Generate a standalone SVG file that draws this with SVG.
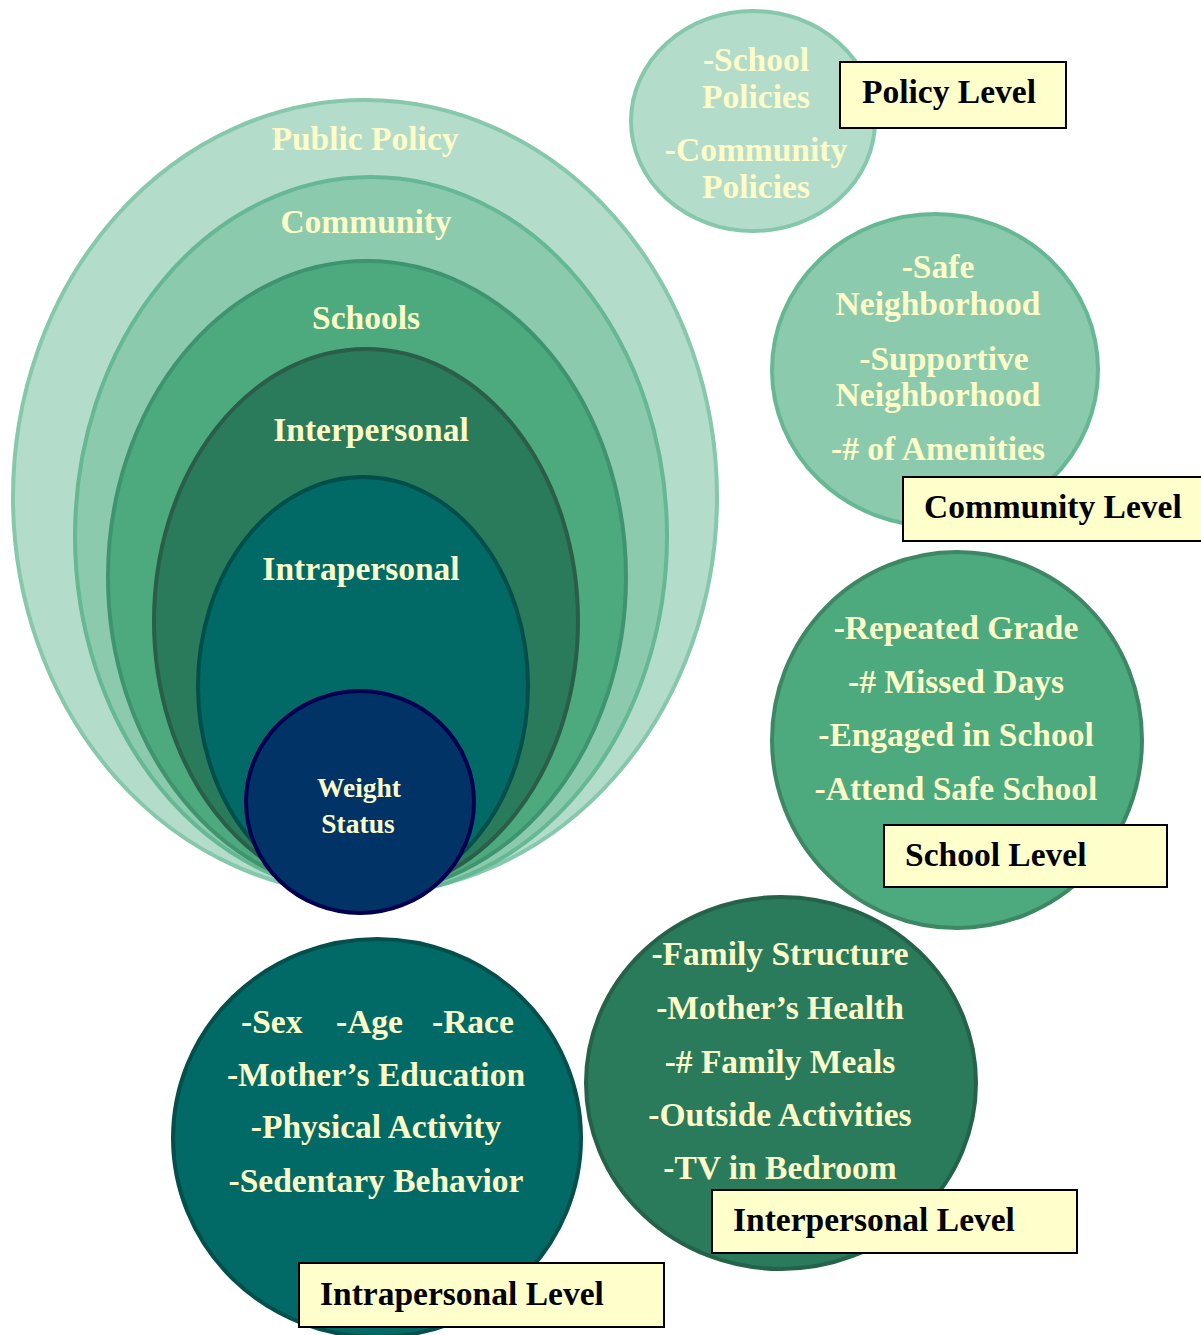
<svg xmlns="http://www.w3.org/2000/svg" width="1201" height="1335" viewBox="0 0 1201 1335">
<style>
text{font-family:"Liberation Serif","Times New Roman",serif;font-weight:bold;}
.t{fill:#fefdc8;font-size:33.5px;text-anchor:middle;}
.lb{fill:#000;font-size:33.5px;}
.box{fill:#ffffcc;stroke:#000;stroke-width:2;}
.c1{fill:#b4dccb;stroke:#86c8ac;stroke-width:4;}
.c2{fill:#8bcaad;stroke:#65b893;stroke-width:4;}
.c3{fill:#4caa7e;stroke:#3f9470;stroke-width:4;}
.c4{fill:#2a7a5c;stroke:#2a5e48;stroke-width:4;}
.c5{fill:#026a66;stroke:#024e4a;stroke-width:4;}
</style>
<rect width="1201" height="1335" fill="#fff"/>
<g id="nested-model">
<g id="public-policy"><ellipse class="c1" cx="365" cy="497" rx="352" ry="397"/><text class="t" x="365" y="150">Public Policy</text></g>
<g id="community"><ellipse class="c2" cx="371" cy="536" rx="296" ry="359"/><text class="t" x="366" y="233">Community</text></g>
<g id="schools"><ellipse class="c3" cx="367" cy="577" rx="259" ry="316"/><text class="t" x="366" y="329">Schools</text></g>
<g id="interpersonal"><ellipse class="c4" cx="366" cy="621" rx="212" ry="272"/><text class="t" x="371" y="441">Interpersonal</text></g>
<g id="intrapersonal"><ellipse class="c5" cx="363" cy="686" rx="165" ry="209"/><text class="t" x="361" y="580">Intrapersonal</text></g>
<g id="weight-status"><ellipse cx="360" cy="802" rx="114" ry="111" fill="#013366" stroke="#000050" stroke-width="4"/><text class="t" x="359" y="797" style="font-size:27.5px">Weight</text><text class="t" x="358" y="833" style="font-size:27.5px">Status</text></g>
</g>
<g id="policy-level">
<ellipse class="c1" cx="753" cy="121" rx="122" ry="110"/>
<text class="t" x="756" y="71">-School</text>
<text class="t" x="756" y="108">Policies</text>
<text class="t" x="756" y="161">-Community</text>
<text class="t" x="756" y="198">Policies</text>
<rect class="box" x="840" y="62" width="226" height="66"/>
<text class="lb" x="862" y="103">Policy Level</text>
</g>
<g id="community-level">
<ellipse class="c2" cx="935" cy="370" rx="163" ry="156"/>
<text class="t" x="938" y="278">-Safe</text>
<text class="t" x="938" y="315">Neighborhood</text>
<text class="t" x="944" y="370">-Supportive</text>
<text class="t" x="938" y="406">Neighborhood</text>
<text class="t" x="938" y="460">-# of Amenities</text>
<rect class="box" x="903" y="477" width="300" height="64"/>
<text class="lb" x="924" y="518">Community Level</text>
</g>
<g id="school-level">
<ellipse cx="957" cy="740" rx="185" ry="188" fill="#4caa7e" stroke="#3d8765" stroke-width="4"/>
<text class="t" x="956" y="639">-Repeated Grade</text>
<text class="t" x="956" y="693">-# Missed Days</text>
<text class="t" x="956" y="746">-Engaged in School</text>
<text class="t" x="956" y="800">-Attend Safe School</text>
<rect class="box" x="884" y="825" width="283" height="62"/>
<text class="lb" x="905" y="866">School Level</text>
</g>
<g id="interpersonal-level">
<ellipse cx="781" cy="1083" rx="195" ry="186" fill="#2a7a5c" stroke="#24624a" stroke-width="4"/>
<text class="t" x="780" y="965">-Family Structure</text>
<text class="t" x="780" y="1019">-Mother’s Health</text>
<text class="t" x="780" y="1073">-# Family Meals</text>
<text class="t" x="780" y="1126">-Outside Activities</text>
<text class="t" x="780" y="1179">-TV in Bedroom</text>
<rect class="box" x="712" y="1190" width="365" height="63"/>
<text class="lb" x="733" y="1231">Interpersonal Level</text>
</g>
<g id="intrapersonal-level">
<ellipse cx="377" cy="1138" rx="204" ry="199" fill="#026a66" stroke="#034f4c" stroke-width="4"/>
<text class="t" x="241" y="1033" style="text-anchor:start">-Sex</text>
<text class="t" x="336" y="1033" style="text-anchor:start">-Age</text>
<text class="t" x="432" y="1033" style="text-anchor:start">-Race</text>
<text class="t" x="376" y="1086">-Mother’s Education</text>
<text class="t" x="376" y="1138">-Physical Activity</text>
<text class="t" x="376" y="1192">-Sedentary Behavior</text>
<rect class="box" x="299" y="1263" width="365" height="64"/>
<text class="lb" x="320" y="1305">Intrapersonal Level</text>
</g>
<g id="connectors"></g>
</svg>
